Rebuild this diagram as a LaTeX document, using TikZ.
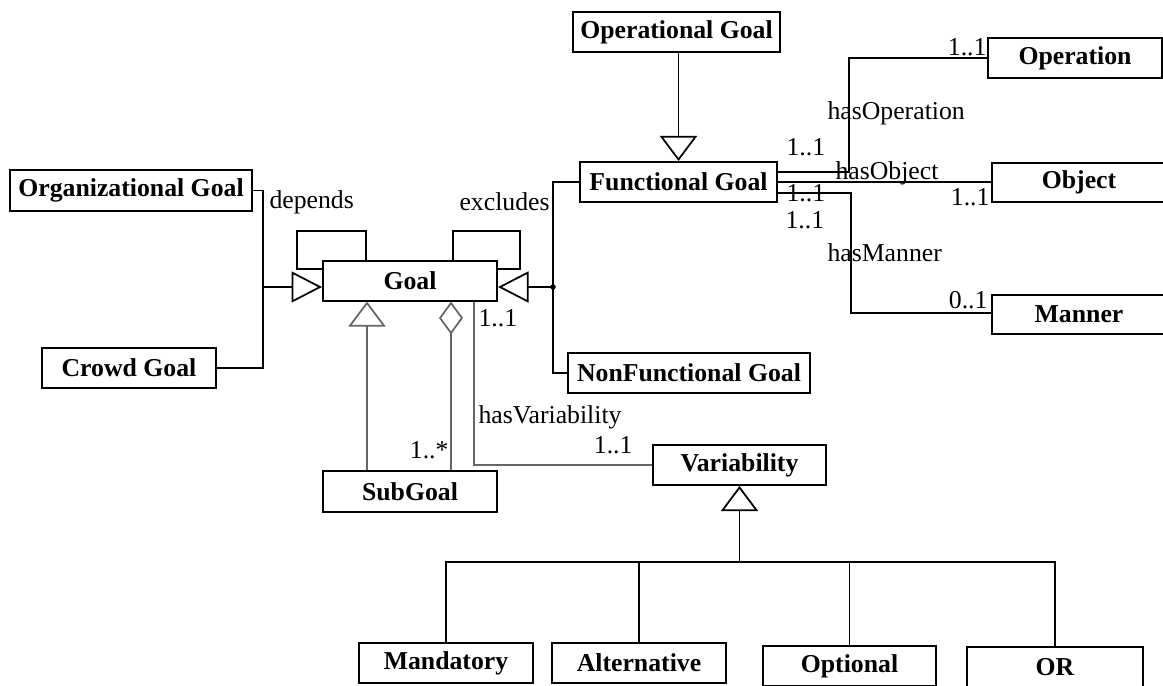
\documentclass[tikz,border=0pt]{standalone}
\usepackage{fontspec}
\setmainfont{Liberation Serif}
\usetikzlibrary{arrows.meta}
\begin{document}
\begin{tikzpicture}[x=0.4pt,y=-0.4pt,
  sz/.style 2 args={minimum width=#1*0.4pt, minimum height=#2*0.4pt},
  cls/.style={draw, line width=0.8pt, inner sep=0pt, fill=white,
    font=\fontsize{10.3}{12}\selectfont\bfseries},
  lbl/.style={inner sep=0pt, font=\fontsize{10.3}{12}\selectfont},
  link/.style={line width=0.7pt},
  soft/.style={line width=0.7pt, draw=black!60},
  genv/.style={-{Triangle[open,length=10pt,width=14.8pt]}},
  genh/.style={-{Triangle[open,length=12.2pt,width=12.4pt]}},
  agg/.style={-{Diamond[open,length=13.2pt,width=9.6pt]}},
]
\useasboundingbox (0,0) rectangle (1163,685);
\fill[white] (0,0) rectangle (1163,685);
\clip (0,0) rectangle (1163,685);

% classes
\node[cls, sz={242}{41}] (org) at (131,190.5) {Organizational Goal};
\node[cls, sz={174}{40}] (crowd) at (129,368) {Crowd Goal};
\node[cls, sz={174}{40}] (goal) at (410,280.5) {Goal};
\node[cls, sz={207}{40}] (opgoal) at (676.5,32) {Operational Goal};
\node[cls, sz={197}{40}] (func) at (678.5,182) {Functional Goal};
\node[cls, sz={242}{40}] (nonfunc) at (689,373) {NonFunctional Goal};
\node[cls, sz={174}{40}] (operation) at (1075,58) {Operation};
\node[cls, sz={174}{39}] (object) at (1079,182.5) {Object};
\node[cls, sz={174}{39}] (manner) at (1079,314.5) {Manner};
\node[cls, sz={174}{41}] (subgoal) at (410,491.5) {SubGoal};
\node[cls, sz={173}{40}] (variability) at (739.5,465) {Variability};
\node[cls, sz={174}{40}] (mandatory) at (446,663) {Mandatory};
\node[cls, sz={174}{40}] (alternative) at (639,663) {Alternative};
\node[cls, sz={173}{40}] (optional) at (849.5,666) {Optional};
\node[cls, sz={176}{40}] (orbox) at (1055,667) {OR};

% junctions
\coordinate (jL) at (263,287);
\coordinate (jR) at (553,287);
\coordinate (vb) at (739.5,562);

% depends
\draw[link] (org.east) -| (jL);
\draw[link] (crowd.east) -| (jL);
\draw[link,genh] (jL) -- (goal.west |- jL);
\node[lbl, anchor=west] (ldep) at (269,202) {depends};

% excludes
\draw[link] (func.west) -| (jR) |- (nonfunc.west);
\draw[link,genh] (jR) -- (goal.east |- jR);
\fill (jR) circle[radius=1.1pt];
\node[lbl, anchor=west] (lexc) at (459,202) {excludes};

% self loops on Goal
\draw[link] (goal.west |- 0,269) -| (297,231) -| (goal.north -| 366,0);
\draw[link] (goal.north -| 453,0) |- (520,231) |- (goal.east |- 0,269);

% operational goal specialises functional goal
\draw[link,genv] (opgoal.south -| func.north) -- (func.north);

% subgoals
\draw[soft,genv] (subgoal.north -| 367,0) -- (goal.south -| 367,0);
\draw[soft,agg] (subgoal.north -| 451,0) -- (goal.south -| 451,0);
\node[lbl, anchor=east] (lsub) at (449,450) {1..*};

% variability
\draw[soft] (goal.south -| 474,0) |- (variability.west);
\node[lbl, anchor=west] (lg11) at (478,318) {1..1};
\node[lbl, anchor=west] (lhv) at (478,417) {hasVariability};
\node[lbl, anchor=east] (lv11) at (633,445) {1..1};

\draw[link,genv] (vb) -- (variability.south);
\draw[link] (mandatory.north) |- (vb) -| (orbox.north);
\draw[link] (alternative.north) -- (alternative.north |- vb);
\draw[link] (optional.north) -- (optional.north |- vb);

% functional goal associations
\draw[link] (func.east |- 0,172) -| (849,58) -- (operation.west);
\draw[link] (func.east) -- (object.west |- func.east);
\draw[link] (func.east |- 0,193) -| (851,313) -- (manner.west |- 0,313);

\node[lbl, anchor=east] (lop11) at (987,47) {1..1};
\node[lbl, anchor=west] (lhop) at (827,113) {hasOperation};
\node[lbl, anchor=west] (lf1) at (786,147) {1..1};
\node[lbl, anchor=west] (lhob) at (835,173) {hasObject};
\node[lbl, anchor=west] (lf2) at (786,193) {1..1};
\node[lbl, anchor=west] (lf3) at (785,220) {1..1};
\node[lbl, anchor=east] (lob11) at (990,197) {1..1};
\node[lbl, anchor=west] (lhma) at (827,253) {hasManner};
\node[lbl, anchor=east] (lma01) at (988,300) {0..1};
\end{tikzpicture}
\end{document}
